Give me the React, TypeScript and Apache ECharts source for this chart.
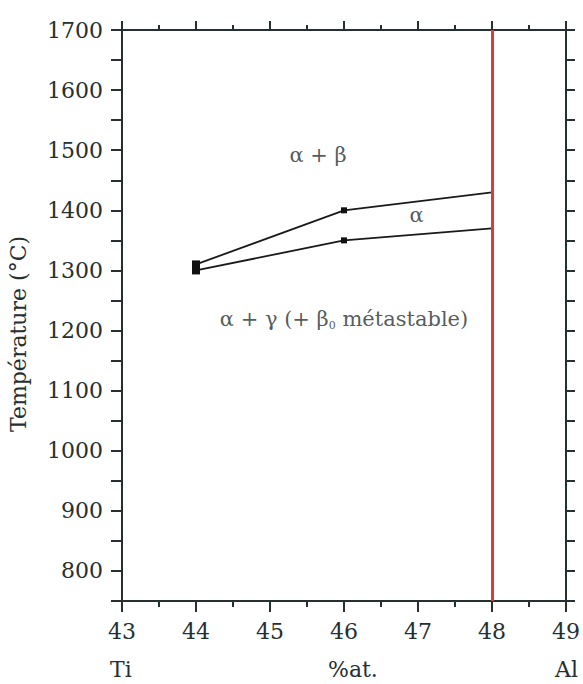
import React, { useEffect, useRef } from "react";
import * as echarts from "echarts";

// Composition (%at. Al) and temperatures (°C)
const compositions = [44, 46, 48];
const upperBoundary = [1310, 1400, 1430]; // α+β / α
const lowerBoundary = [1300, 1350, 1370]; // α / α+γ
const redLineX = 48;

const yLabelValues = [800, 900, 1000, 1100, 1200, 1300, 1400, 1500, 1600, 1700];

// Phase labels [x, y, text]
const phaseLabels: [number, number, string][] = [
  [45.65, 1492, "{t|α + β}"],
  [46.98, 1392, "{t|α}"],
  [46.0, 1220, "{t|α + γ (+ β}{s|0}{t| métastable)}"],
];

const FONT = "DejaVu Serif";
const INK = "#263030";

export default function App() {
  const ref = useRef<HTMLDivElement>(null);
  useEffect(() => {
    if (!ref.current) return;
    const chart = echarts.init(ref.current, null, { renderer: "svg" });
    const axisLine = { show: true, lineStyle: { color: INK, width: 2 } };
    const tickStyle = { color: INK, width: 2 };
    const symSize = (_v: any, p: any) => (p.dataIndex === 0 ? 8 : p.dataIndex === 2 ? 0 : 6);
    const option: any = {
      animation: false,
      backgroundColor: "#ffffff",
      grid: { left: 122, right: 17, top: 30, bottom: 83 },
      xAxis: [
        {
          type: "value",
          position: "bottom",
          min: 43,
          max: 49,
          interval: 1,
          axisLine,
          axisTick: { show: true, inside: false, length: 11, lineStyle: tickStyle },
          minorTick: { show: true, splitNumber: 2, length: 6, lineStyle: tickStyle },
          splitLine: { show: false },
          minorSplitLine: { show: false },
          axisLabel: { color: INK, fontFamily: FONT, fontSize: 22, margin: 19 },
        },
        {
          type: "value",
          position: "top",
          min: 43,
          max: 49,
          interval: 1,
          axisLine,
          axisTick: { show: true, length: 9, lineStyle: tickStyle },
          minorTick: { show: true, splitNumber: 2, length: 5, lineStyle: tickStyle },
          splitLine: { show: false },
          axisLabel: { show: false },
        },
      ],
      yAxis: [
        {
          type: "value",
          position: "left",
          min: 750,
          max: 1700,
          interval: 50,
          axisLine,
          axisTick: { show: true, length: 11, lineStyle: tickStyle },
          splitLine: { show: false },
          axisLabel: {
            color: INK,
            fontFamily: FONT,
            fontSize: 22,
            margin: 19,
            formatter: (v: number) => (yLabelValues.includes(v) ? String(v) : ""),
          },
        },
        {
          type: "value",
          position: "right",
          min: 750,
          max: 1700,
          interval: 50,
          axisLine,
          axisTick: { show: true, length: 9, lineStyle: tickStyle },
          splitLine: { show: false },
          axisLabel: { show: false },
        },
      ],
      series: [
        {
          type: "line",
          data: compositions.map((x, i) => [x, upperBoundary[i]]),
          symbol: "rect",
          symbolSize: symSize,
          itemStyle: { color: "#111" },
          lineStyle: { color: "#1a1a1a", width: 1.8 },
          z: 3,
        },
        {
          type: "line",
          data: compositions.map((x, i) => [x, lowerBoundary[i]]),
          symbol: "rect",
          symbolSize: symSize,
          itemStyle: { color: "#111" },
          lineStyle: { color: "#1a1a1a", width: 1.8 },
          z: 3,
          markLine: {
            silent: true,
            symbol: "none",
            label: { show: false },
            lineStyle: { color: "#e0393b", width: 3, type: "solid" },
            data: [{ xAxis: redLineX }],
            z: 4,
          },
        },
        {
          type: "scatter",
          data: phaseLabels.map((d) => [d[0], d[1], d[2]]),
          symbolSize: 0,
          label: {
            show: true,
            position: "inside",
            formatter: (p: any) => p.value[2],
            rich: {
              t: { fontFamily: FONT, fontSize: 21, color: INK },
              s: { fontFamily: FONT, fontSize: 11, color: INK, verticalAlign: "bottom", padding: [13, 0, 0, 0] },
            },
          },
          z: 5,
        },
      ],
      graphic: [
        {
          type: "text",
          left: 110,
          top: 658,
          style: { text: "Ti", fontFamily: FONT, fontSize: 22, fill: INK },
        },
        {
          type: "text",
          left: 328,
          top: 658,
          style: { text: "%at.", fontFamily: FONT, fontSize: 22, fill: INK },
        },
        {
          type: "text",
          left: 555,
          top: 658,
          style: { text: "Al", fontFamily: FONT, fontSize: 22, fill: INK },
        },
        {
          type: "text",
          x: 18,
          y: 334,
          rotation: Math.PI / 2,
          style: {
            text: "Température (°C)",
            fontFamily: FONT,
            fontSize: 22,
            fill: INK,
            align: "center",
            verticalAlign: "middle",
          },
        },
      ],
    };
    chart.setOption(option);
    return () => chart.dispose();
  }, []);
  return <div ref={ref} style={{ width: 583, height: 684, position: "absolute", left: 0, top: 0 }} />;
}
